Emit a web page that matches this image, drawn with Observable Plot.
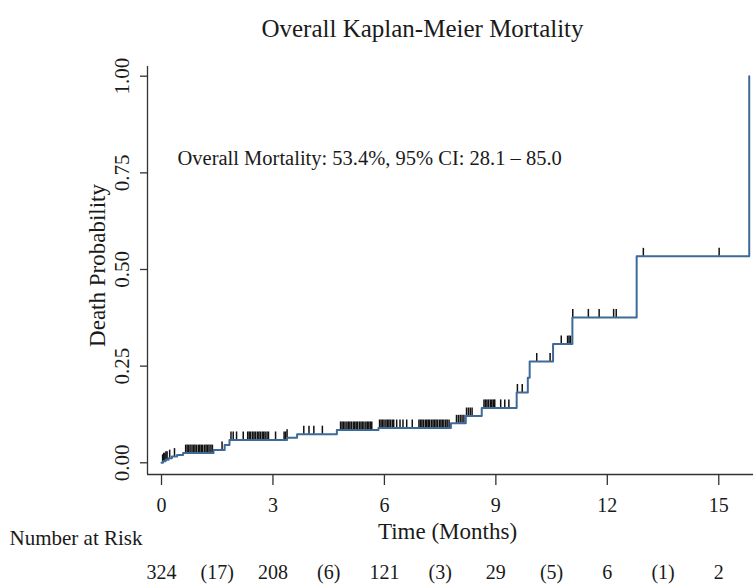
<!DOCTYPE html>
<html>
<head>
<meta charset="utf-8">
<script src="https://cdn.jsdelivr.net/npm/d3@7"></script>
<script src="https://cdn.jsdelivr.net/npm/@observablehq/plot@0.6"></script>
<style>
  html, body { margin: 0; padding: 0; background: #fff; }
  #chart { width: 753px; height: 586px; }
</style>
</head>
<body>
<div id="chart"></div>
<script>
// ---- Data ----
const titleText = "Overall Kaplan-Meier Mortality";
const annotationText = "Overall Mortality: 53.4%, 95% CI: 28.1 \u2013 85.0";
const yLabel = "Death Probability";
const xLabel = "Time (Months)";
const riskHeader = "Number at Risk";

// Kaplan-Meier cumulative mortality: step times (months) and value after each step
const stepTimes  = [0, 0.04, 0.11, 0.19, 0.28, 0.42, 0.58, 1.40, 1.70, 1.83, 3.38, 3.65, 4.72, 5.84, 7.79, 8.19, 8.62, 9.56, 9.86, 9.91, 10.54, 11.06, 12.79, 15.82];
const stepValues = [0, 0.004, 0.008, 0.012, 0.016, 0.020, 0.025, 0.033, 0.046, 0.059, 0.065, 0.074, 0.085, 0.090, 0.102, 0.121, 0.142, 0.182, 0.220, 0.262, 0.307, 0.376, 0.534, 1.0];

// Censoring times (months)
const censorTimes = [
  0.03, 0.06, 0.09, 0.12, 0.15, 0.22, 0.35,
  0.65, 0.69, 0.73, 0.77, 0.82, 0.86, 0.90, 0.94, 0.99, 1.03, 1.07, 1.11, 1.16, 1.20, 1.24, 1.28, 1.33, 1.37,
  1.63, 1.87, 1.93, 2.02, 2.20,
  2.32, 2.36, 2.40, 2.45, 2.49, 2.53, 2.58, 2.62, 2.66, 2.71, 2.75, 2.79, 2.84, 2.88,
  3.07, 3.30, 3.34, 3.38,
  3.83, 3.97, 4.10, 4.33,
  4.82, 4.86, 4.90, 4.94, 4.99, 5.03, 5.07, 5.11, 5.16, 5.20, 5.24, 5.28, 5.33, 5.37, 5.41, 5.45, 5.50, 5.54, 5.58, 5.62, 5.66,
  5.87, 5.91, 5.95, 5.99, 6.04, 6.08, 6.12, 6.16, 6.21, 6.25, 6.33, 6.42, 6.50, 6.60, 6.75,
  6.93, 6.97, 7.01, 7.05, 7.10, 7.14, 7.18, 7.22, 7.27, 7.31,
  7.35, 7.39, 7.43, 7.48, 7.52, 7.56, 7.60, 7.65, 7.69, 7.74,
  7.94, 7.99, 8.04, 8.09, 8.14,
  8.21, 8.26, 8.31, 8.36,
  8.68, 8.72, 8.76, 8.80, 8.85, 8.89, 8.93, 8.97, 9.13, 9.24, 9.35,
  9.58, 9.71, 10.10, 10.46, 10.76, 10.93, 10.97, 11.01,
  11.07, 11.49, 11.78, 12.17, 12.24, 12.97, 15.01
];

const xTicks = [0, 3, 6, 9, 12, 15];
const yTicks = [0, 0.25, 0.5, 0.75, 1];
const yTickLabels = ["0.00", "0.25", "0.50", "0.75", "1.00"];

const riskTimes  = [0, 1.5, 3, 4.5, 6, 7.5, 9, 10.5, 12, 13.5, 15];
const riskLabels = ["324", "(17)", "208", "(6)", "121", "(3)", "29", "(5)", "6", "(1)", "2"];

// ---- Derived tables ----
const xDomain = [-0.377, 15.935];
const yDomain = [-0.0303, 1.0251];
const curve = stepTimes.map((t, i) => ({t, v: stepValues[i]}));
const levelAt = (t) => {
  let v = 0;
  for (let i = 0; i < stepTimes.length; i++) if (stepTimes[i] <= t) v = stepValues[i];
  return v;
};
const censors = censorTimes.map(t => ({t, v: levelAt(t)}));
const yTickRows = yTicks.map((y, i) => ({y, label: yTickLabels[i]}));
const riskRows = riskTimes.map((t, i) => ({t, label: riskLabels[i]}));

const serif = "'Liberation Serif', 'Times New Roman', serif";
const ink = "#1a1a1a";
const axisInk = "#333";
const txt = {fill: ink, fontFamily: serif, lineAnchor: "middle"};

const chart = Plot.plot({
  width: 753,
  height: 586,
  marginLeft: 147,
  marginRight: 0,
  marginTop: 66,
  marginBottom: 112,
  style: {fontFamily: serif, background: "#fff", color: ink, overflow: "visible"},
  x: {domain: xDomain},
  y: {domain: yDomain},
  marks: [
    Plot.ruleX([xDomain[0]], {stroke: axisInk, strokeWidth: 1.3}),
    Plot.ruleY([yDomain[0]], {stroke: axisInk, strokeWidth: 1.3}),
    Plot.axisX({ticks: xTicks, tickSize: 11, tickPadding: 12, fontSize: 20, label: null, stroke: axisInk, strokeWidth: 1.3, tickFormat: d => String(d), fontFamily: serif, fill: ink}),
    Plot.axisY({ticks: yTicks, tickSize: 7, tickFormat: () => "", label: null, stroke: axisInk, strokeWidth: 1.3}),
    Plot.text(yTickRows, {...txt, y: "y", text: "label", frameAnchor: "left", rotate: -90, dx: -25, textAnchor: "middle", fontSize: 21}),
    Plot.text([yLabel], {...txt, text: d => d, frameAnchor: "left", rotate: -90, dx: -50, dy: -5, textAnchor: "middle", fontSize: 23}),
    Plot.text([xLabel], {...txt, text: d => d, frameAnchor: "bottom", dx: -3, dy: 57, fontSize: 23}),
    Plot.text([riskHeader], {...txt, text: d => d, frameAnchor: "bottom-left", textAnchor: "end", dx: -5, dy: 64, fontSize: 21}),
    Plot.text(riskRows, {...txt, x: "t", text: "label", frameAnchor: "bottom", dy: 98, fontSize: 20}),
    Plot.text([titleText], {...txt, text: d => d, frameAnchor: "top", dx: -28, dy: -38, fontSize: 25}),
    Plot.text([annotationText], {...txt, text: d => d, frameAnchor: "top-left", textAnchor: "start", dx: 30, dy: 92, fontSize: 20.5}),
    Plot.ruleX(censors, {x: "t", y1: "v", y2: "v", insetBottom: 8, stroke: "#111", strokeWidth: 1.5}),
    Plot.line(curve, {x: "t", y: "v", curve: "step-after", stroke: "#3d6a98", strokeWidth: 2})
  ]
});
document.getElementById("chart").appendChild(chart);
</script>
</body>
</html>
